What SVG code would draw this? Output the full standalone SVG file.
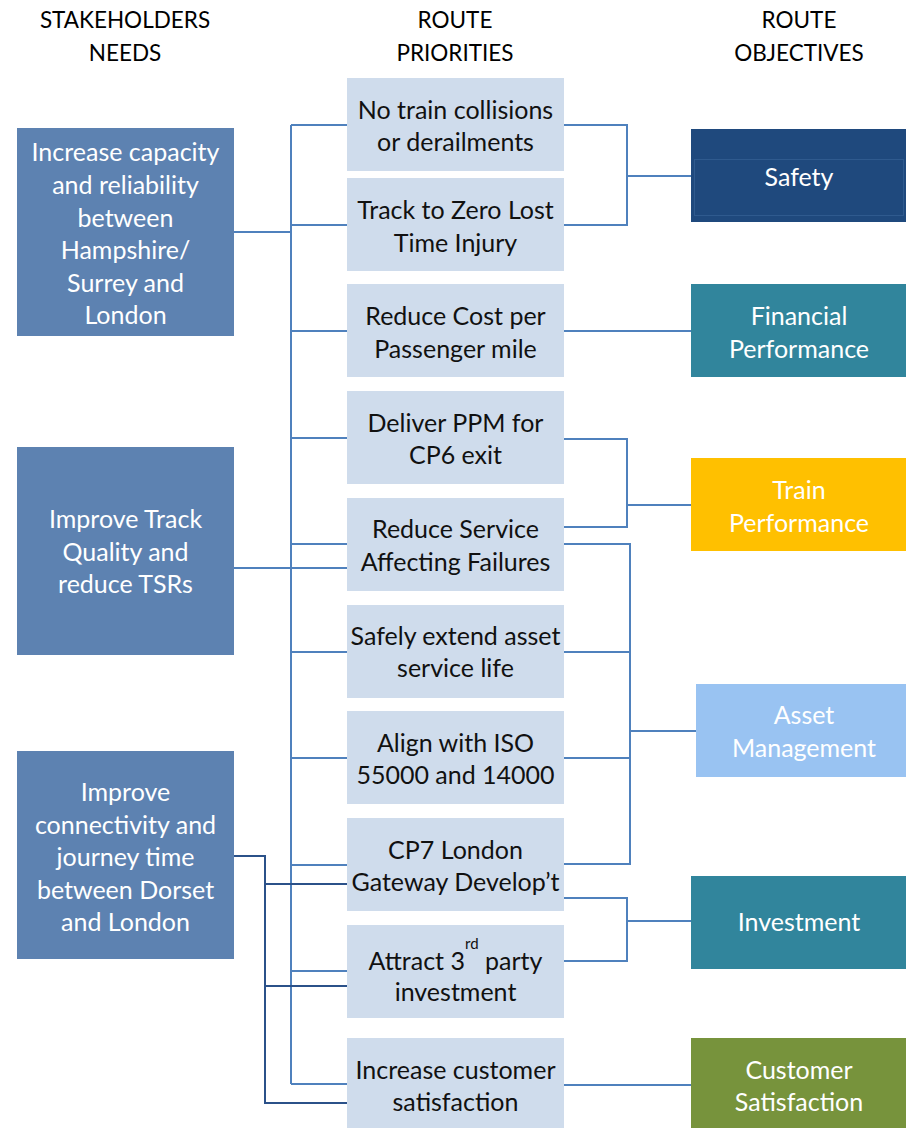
<svg xmlns="http://www.w3.org/2000/svg" width="906" height="1128" viewBox="0 0 906 1128">
  <style>
    text { font-family: Lato, "Open Sans", "Liberation Sans", sans-serif; font-size: 25px; text-anchor: middle; }
    .hdr text { fill: #000000; font-size: 22.5px; }
    .need rect { fill: #5d82b1; }
    .need text { fill: #ffffff; }
    .prio rect { fill: #cfdcec; }
    .prio text { fill: #111111; }
    .obj text { fill: #ffffff; }
    .ln { fill: none; stroke: #4f81bd; stroke-width: 2; }
    .ln2 { fill: none; stroke: #2b5189; stroke-width: 2; }
  </style>

  <!-- column headings -->
  <g id="headings" class="hdr">
    <text x="125" y="28">STAKEHOLDERS</text>
    <text x="125" y="61">NEEDS</text>
    <text x="455" y="28">ROUTE</text>
    <text x="455" y="61">PRIORITIES</text>
    <text x="799" y="28">ROUTE</text>
    <text x="799" y="61">OBJECTIVES</text>
  </g>

  <!-- connectors -->
  <g id="connectors">
    <!-- main trunk from needs to priorities -->
    <path class="ln" d="M291,125 V1084"/>
    <path class="ln" d="M234,232 H291"/>
    <path class="ln" d="M291,125 H347 M291,225 H347 M291,331 H347 M291,438 H347 M291,544 H347 M291,652 H347 M291,758 H347 M291,865 H347 M291,971 H347 M291,1084 H347"/>
    <path class="ln" d="M234,568 H347"/>
    <!-- connectivity branch -->
    <path class="ln2" d="M234,856 H265 V1103 H347 M265,884 H347 M265,986 H347"/>
    <!-- priorities to objectives -->
    <path class="ln" d="M564,125 H627 V225 H564 M627,176 H691"/>
    <path class="ln" d="M564,331 H691"/>
    <path class="ln" d="M564,439 H627 V527 H564 M627,505 H691"/>
    <path class="ln" d="M564,544 H630 V864 H564 M564,652 H630 M564,758 H630 M630,731 H696"/>
    <path class="ln" d="M564,898 H627 V961 H564 M627,921 H691"/>
    <path class="ln" d="M564,1085 H691"/>
  </g>

  <!-- stakeholder needs -->
  <g id="need-capacity" class="need">
    <rect x="17" y="128" width="217" height="208"/>
    <text x="125.5" y="161">Increase capacity</text>
    <text x="125.5" y="194">and reliability</text>
    <text x="125.5" y="227">between</text>
    <text x="125.5" y="259">Hampshire/</text>
    <text x="125.5" y="292">Surrey and</text>
    <text x="125.5" y="324">London</text>
  </g>
  <g id="need-track" class="need">
    <rect x="17" y="447" width="217" height="208"/>
    <text x="125.5" y="528">Improve Track</text>
    <text x="125.5" y="561">Quality and</text>
    <text x="125.5" y="593">reduce TSRs</text>
  </g>
  <g id="need-connectivity" class="need">
    <rect x="17" y="751" width="217" height="208"/>
    <text x="125.5" y="801">Improve</text>
    <text x="125.5" y="834">connectivity and</text>
    <text x="125.5" y="866">journey time</text>
    <text x="125.5" y="899">between Dorset</text>
    <text x="125.5" y="931">and London</text>
  </g>

  <!-- route priorities -->
  <g id="prio-collisions" class="prio">
    <rect x="347" y="78" width="217" height="93"/>
    <text x="455.5" y="119">No train collisions</text>
    <text x="455.5" y="151">or derailments</text>
  </g>
  <g id="prio-lti" class="prio">
    <rect x="347" y="178" width="217" height="93"/>
    <text x="455.5" y="219">Track to Zero Lost</text>
    <text x="455.5" y="252">Time Injury</text>
  </g>
  <g id="prio-cost" class="prio">
    <rect x="347" y="284" width="217" height="93"/>
    <text x="455.5" y="325">Reduce Cost per</text>
    <text x="455.5" y="358">Passenger mile</text>
  </g>
  <g id="prio-ppm" class="prio">
    <rect x="347" y="391" width="217" height="93"/>
    <text x="455.5" y="432">Deliver PPM for</text>
    <text x="455.5" y="464">CP6 exit</text>
  </g>
  <g id="prio-failures" class="prio">
    <rect x="347" y="498" width="217" height="93"/>
    <text x="455.5" y="538">Reduce Service</text>
    <text x="455.5" y="571">Affecting Failures</text>
  </g>
  <g id="prio-asset-life" class="prio">
    <rect x="347" y="605" width="217" height="93"/>
    <text x="455.5" y="645">Safely extend asset</text>
    <text x="455.5" y="677">service life</text>
  </g>
  <g id="prio-iso" class="prio">
    <rect x="347" y="711" width="217" height="93"/>
    <text x="455.5" y="752">Align with ISO</text>
    <text x="455.5" y="784">55000 and 14000</text>
  </g>
  <g id="prio-gateway" class="prio">
    <rect x="347" y="818" width="217" height="93"/>
    <text x="455.5" y="859">CP7 London</text>
    <text x="455.5" y="891">Gateway Develop’t</text>
  </g>
  <g id="prio-third-party" class="prio">
    <rect x="347" y="925" width="217" height="93"/>
    <text x="455.5" y="970">Attract 3<tspan font-size="15" dy="-21">rd</tspan><tspan dy="21">  party</tspan></text>
    <text x="455.5" y="1001">investment</text>
  </g>
  <g id="prio-customer" class="prio">
    <rect x="347" y="1038" width="217" height="90"/>
    <text x="455.5" y="1079">Increase customer</text>
    <text x="455.5" y="1111">satisfaction</text>
  </g>

  <!-- route objectives -->
  <g id="obj-safety" class="obj">
    <rect x="691" y="129" width="215" height="93" fill="#1f497d"/>
    <rect x="694.5" y="159.5" width="209" height="56" fill="none" stroke="#2f5a8e" stroke-width="1"/>
    <text x="799" y="186">Safety</text>
  </g>
  <g id="obj-financial" class="obj">
    <rect x="691" y="284" width="215" height="93" fill="#31859c"/>
    <text x="799" y="325">Financial</text>
    <text x="799" y="358">Performance</text>
  </g>
  <g id="obj-train" class="obj">
    <rect x="691" y="458" width="215" height="93" fill="#ffc000"/>
    <text x="799" y="499">Train</text>
    <text x="799" y="532">Performance</text>
  </g>
  <g id="obj-asset" class="obj">
    <rect x="696" y="684" width="210" height="93" fill="#99c3f2"/>
    <text x="804" y="724">Asset</text>
    <text x="804" y="757">Management</text>
  </g>
  <g id="obj-investment" class="obj">
    <rect x="691" y="876" width="215" height="93" fill="#31859c"/>
    <text x="799" y="931">Investment</text>
  </g>
  <g id="obj-customer" class="obj">
    <rect x="691" y="1038" width="215" height="90" fill="#77933c"/>
    <text x="799" y="1079">Customer</text>
    <text x="799" y="1111">Satisfaction</text>
  </g>
</svg>
